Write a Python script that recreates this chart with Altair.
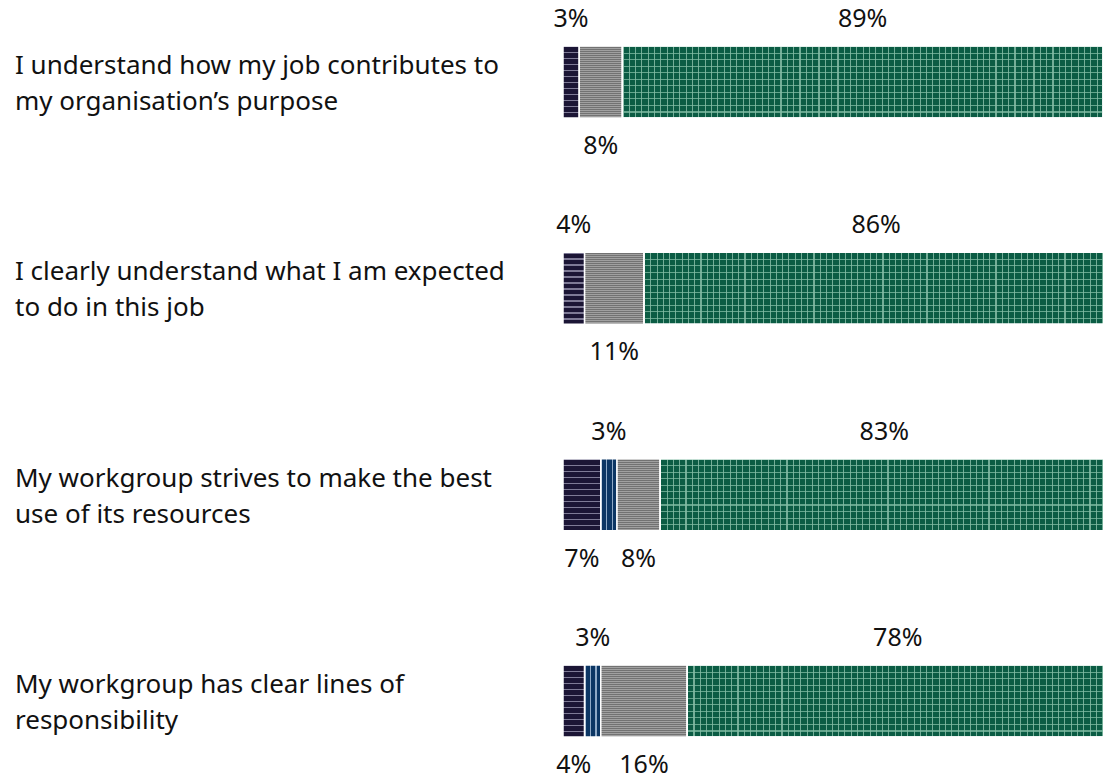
import altair as alt
import pandas as pd

questions = [
    "I understand how my job contributes to\nmy organisation’s purpose",
    "I clearly understand what I am expected\nto do in this job",
    "My workgroup strives to make the best\nuse of its resources",
    "My workgroup has clear lines of\nresponsibility",
]
categories = ["Disagree", "Don't know", "Neither agree nor disagree", "Agree"]
disagree = [3, 4, 7, 4]
dont_know = [0, 0, 3, 3]
neutral = [8, 11, 8, 16]
agree = [89, 86, 83, 78]

series = [disagree, dont_know, neutral, agree]

rows = []
for qi, q in enumerate(questions):
    vals = [s[qi] for s in series]
    nz = [(c, v) for c, v in zip(categories, vals) if v > 0]
    start = 0
    for idx, (c, v) in enumerate(nz):
        from_end = len(nz) - 1 - idx
        rows.append({
            "question": q,
            "qi": qi,
            "category": c,
            "value": v,
            "start": start,
            "end": start + v,
            "mid": start + v / 2,
            "label": f"{v}%",
            "pos": "above" if from_end % 2 == 0 else "below",
        })
        start += v
df = pd.DataFrame(rows)
qdf = pd.DataFrame({"question": questions})

PLOT_W = 540
PX_PER_PCT = PLOT_W / 100


def stripes(base, line, n, frac, along="y"):
    stops = []
    for k in range(n):
        a = k / n
        b = (k + frac) / n
        stops += [
            {"offset": a, "color": line},
            {"offset": b, "color": line},
            {"offset": b, "color": base},
            {"offset": (k + 1) / n, "color": base},
        ]
    g = {"gradient": "linear", "stops": stops}
    if along == "y":
        g.update({"x1": 0, "y1": 0, "x2": 0, "y2": 1})
    else:
        g.update({"x1": 0, "y1": 0, "x2": 1, "y2": 0})
    return g


y_enc = alt.Y("question:N", sort=questions,
              scale=alt.Scale(type="point", padding=0), axis=None)
x_enc = alt.X("start:Q", scale=alt.Scale(domain=[0, 100], nice=False, zero=True), axis=None)

base = alt.Chart(df).encode(y=y_enc, x=x_enc, x2="end:Q")
BAR = 72

dark = base.transform_filter(alt.datum.category == "Disagree").mark_bar(
    size=BAR, fill=stripes("#1b1535", "#7e7a96", 12, 0.2, "y"),
    stroke="white", strokeWidth=1.5)
blue = base.transform_filter(alt.datum.category == "Don't know").mark_bar(
    size=BAR, fill=stripes("#0c3664", "#8fa9c6", 3, 0.22, "x"),
    stroke="white", strokeWidth=1.5)
grey = base.transform_filter(alt.datum.category == "Neither agree nor disagree").mark_bar(
    size=BAR, fill=stripes("#727272", "#a0a0a0", 36, 0.5, "y"),
    stroke="white", strokeWidth=1.5)

greens = []
for qi, q in enumerate(questions):
    wpx = agree[qi] * PX_PER_PCT
    n = max(1, round(wpx / 6.3))
    greens.append(
        base.transform_filter(
            (alt.datum.category == "Agree") & (alt.datum.qi == qi)
        ).mark_bar(size=BAR, fill=stripes("#0b5c44", "#73ad97", n, 1.1 / 6.3, "x"),
                   stroke="white", strokeWidth=1.5)
    )
green_h = base.transform_filter(alt.datum.category == "Agree").mark_bar(
    size=BAR, fill=stripes("rgba(0,0,0,0)", "rgba(130,190,165,0.75)", 11, 0.16, "y"),
    stroke="white", strokeWidth=1.5)

FONT = "Noto Sans"
lbl = alt.Chart(df).encode(y=y_enc, x=alt.X("mid:Q"), text="label:N")
above = lbl.transform_filter(alt.datum.pos == "above").mark_text(
    dy=-63, fontSize=25, font=FONT, color="#111111", baseline="middle", align="center")
below = lbl.transform_filter(alt.datum.pos == "below").mark_text(
    dy=64, fontSize=25, font=FONT, color="#111111", baseline="middle", align="center")

qtext = alt.Chart(qdf).mark_text(
    align="left", baseline="middle", fontSize=26, font=FONT, lineBreak="\n",
    lineHeight=36, color="#111111", dy=-16
).encode(y=y_enc, x=alt.value(-548), text="question:N")

chart = alt.layer(dark, blue, grey, *greens, green_h, above, below, qtext).properties(
    width=PLOT_W, height=619,
    padding={"left": 555, "top": 74, "right": 0, "bottom": 74},
    autosize=alt.AutoSizeParams(type="none"),
).configure_view(stroke=None)

chart.save("out.html", embed_options={"renderer": "svg", "actions": False})
